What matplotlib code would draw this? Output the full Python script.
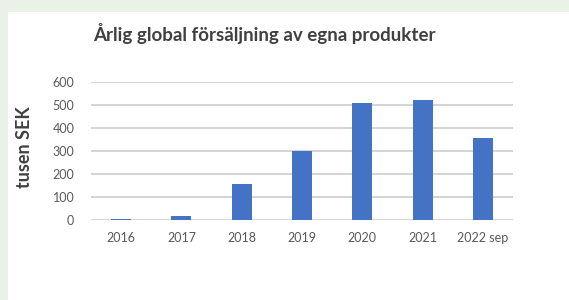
import matplotlib.pyplot as plt
from matplotlib.patches import Rectangle

years = ["2016", "2017", "2018", "2019", "2020", "2021", "2022 sep"]
sales = [4, 17, 155, 302, 508, 521, 359]
yticks = [0, 100, 200, 300, 400, 500, 600]

plt.rcParams["font.family"] = ["Lato", "DejaVu Sans"]

fig = plt.figure(figsize=(5.69, 3.00), dpi=100)
fig.patch.set_facecolor("#eaf2e8")
# white card behind everything
fig.patches.append(Rectangle((8 / 569, 0), 1, 1 - 12 / 300, transform=fig.transFigure,
                             facecolor="white", edgecolor="none", zorder=-5))

ax = fig.add_axes([91 / 569, 1 - 220 / 300, 422 / 569, 137.7 / 300])
ax.set_facecolor("none")
ax.set_zorder(2)
ax.bar(range(len(years)), sales, width=0.33, color="#4472c4", zorder=3)

ax.set_xlim(-0.5, len(years) - 0.5)
ax.set_ylim(0, 600)
ax.set_yticks(yticks)
ax.set_xticks(range(len(years)))
ax.set_xticklabels(years)
ax.grid(axis="y", color="#d4d4d4", linewidth=1.4, zorder=0)
ax.tick_params(length=0, labelsize=9, colors="#595959", pad=9)
ax.tick_params(axis="y", pad=12)
for s in ax.spines.values():
    s.set_visible(False)

fig.text(264 / 569, 1 - 33 / 300, "Årlig global försäljning av egna produkter",
         ha="center", va="center", fontsize=13.5, fontweight="bold", color="#404040")
fig.text(24 / 569, 1 - 147 / 300, "tusen SEK", ha="center", va="center",
         rotation=90, fontsize=13, fontweight="bold", color="#404040")

fig.savefig("out.png", dpi=100, facecolor=fig.get_facecolor())
